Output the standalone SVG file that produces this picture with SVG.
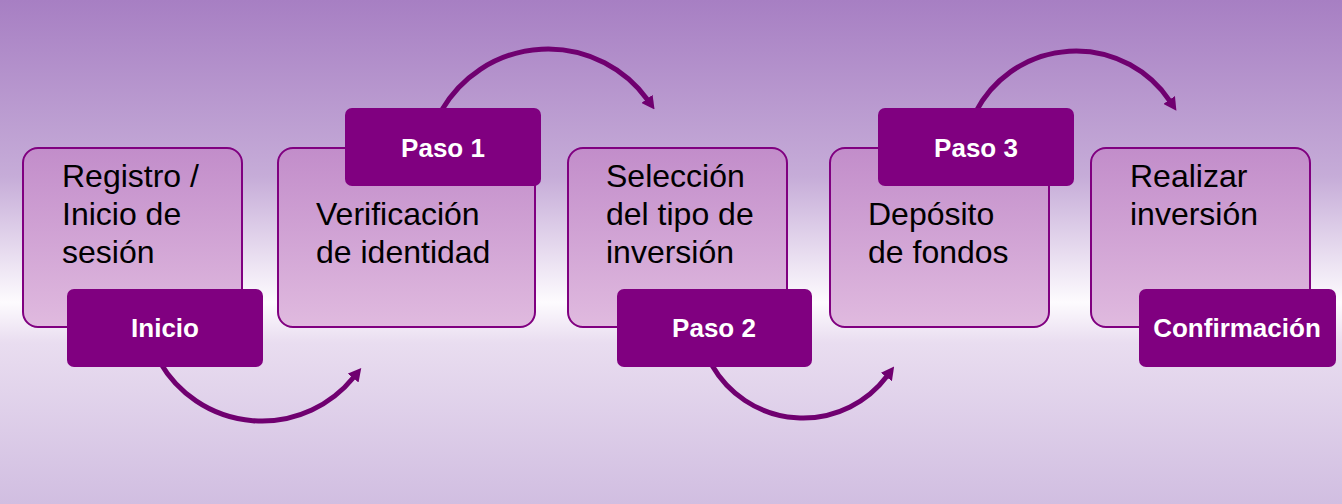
<svg xmlns="http://www.w3.org/2000/svg" width="1342" height="504" viewBox="0 0 1342 504">
<defs>
<linearGradient id="bg" x1="0" y1="0" x2="0" y2="1">
<stop offset="0" stop-color="#a77fc3"/>
<stop offset="0.35" stop-color="#c6acd8"/>
<stop offset="0.6" stop-color="#fdfbfe"/>
<stop offset="0.68" stop-color="#e9ddf0"/>
<stop offset="1" stop-color="#d1bee1"/>
</linearGradient>
<linearGradient id="box" x1="0" y1="0" x2="0" y2="1">
<stop offset="0" stop-color="#c28dca"/>
<stop offset="1" stop-color="#e0badf"/>
</linearGradient>
<marker id="ah" markerUnits="userSpaceOnUse" viewBox="0 0 13 14" markerWidth="13" markerHeight="14" refX="1" refY="7" orient="auto">
<path d="M0,0 L13,7 L0,14 Z" fill="#700070"/>
</marker>
<style>
.box{fill:url(#box);stroke:#800080;stroke-width:2}
.tag{fill:#800080}
.txt{font-family:"Liberation Sans",Arial,sans-serif;font-size:32px;fill:#000}
.lbl{font-family:"Liberation Sans",Arial,sans-serif;font-size:26px;font-weight:bold;fill:#fff;text-anchor:middle}
.arc{fill:none;stroke:#700070;stroke-width:5;marker-end:url(#ah)}
</style>
</defs>
<rect x="0" y="0" width="1342" height="504" fill="url(#bg)"/>
<g id="connectors">
<path class="arc" d="M 159.8 362 A 118 118 0 0 0 353.7 377.3"/>
<path class="arc" d="M 441.5 110.5 A 123 123 0 0 1 647.5 99.7"/>
<path class="arc" d="M 712.1 365.5 A 105 105 0 0 0 886.9 376.2"/>
<path class="arc" d="M 975.3 112.7 A 113 113 0 0 1 1169.7 100.8"/>
</g>
<g id="node1">
<rect class="box" x="23" y="148" width="219" height="179" rx="15"/>
<text class="txt" x="62" y="187">Registro /</text>
<text class="txt" x="62" y="225">Inicio de</text>
<text class="txt" x="62" y="263">sesión</text>
<rect class="tag" x="67" y="289" width="196" height="78" rx="7"/>
<text class="lbl" x="165" y="337">Inicio</text>
</g>
<g id="node2">
<rect class="box" x="278" y="148" width="257" height="179" rx="15"/>
<text class="txt" x="316" y="225">Verificación</text>
<text class="txt" x="316" y="263">de identidad</text>
<rect class="tag" x="345" y="108" width="196" height="78" rx="7"/>
<text class="lbl" x="443" y="157">Paso 1</text>
</g>
<g id="node3">
<rect class="box" x="568" y="148" width="219" height="179" rx="15"/>
<text class="txt" x="606" y="187">Selección</text>
<text class="txt" x="606" y="225">del tipo de</text>
<text class="txt" x="606" y="263">inversión</text>
<rect class="tag" x="617" y="289" width="195" height="78" rx="7"/>
<text class="lbl" x="714" y="337">Paso 2</text>
</g>
<g id="node4">
<rect class="box" x="830" y="148" width="219" height="179" rx="15"/>
<text class="txt" x="868" y="225">Depósito</text>
<text class="txt" x="868" y="263">de fondos</text>
<rect class="tag" x="878" y="108" width="196" height="78" rx="7"/>
<text class="lbl" x="976" y="157">Paso 3</text>
</g>
<g id="node5">
<rect class="box" x="1091" y="148" width="219" height="179" rx="15"/>
<text class="txt" x="1130" y="187">Realizar</text>
<text class="txt" x="1130" y="225">inversión</text>
<rect class="tag" x="1139" y="289" width="197" height="78" rx="7"/>
<text class="lbl" x="1237" y="337">Confirmación</text>
</g>
</svg>
